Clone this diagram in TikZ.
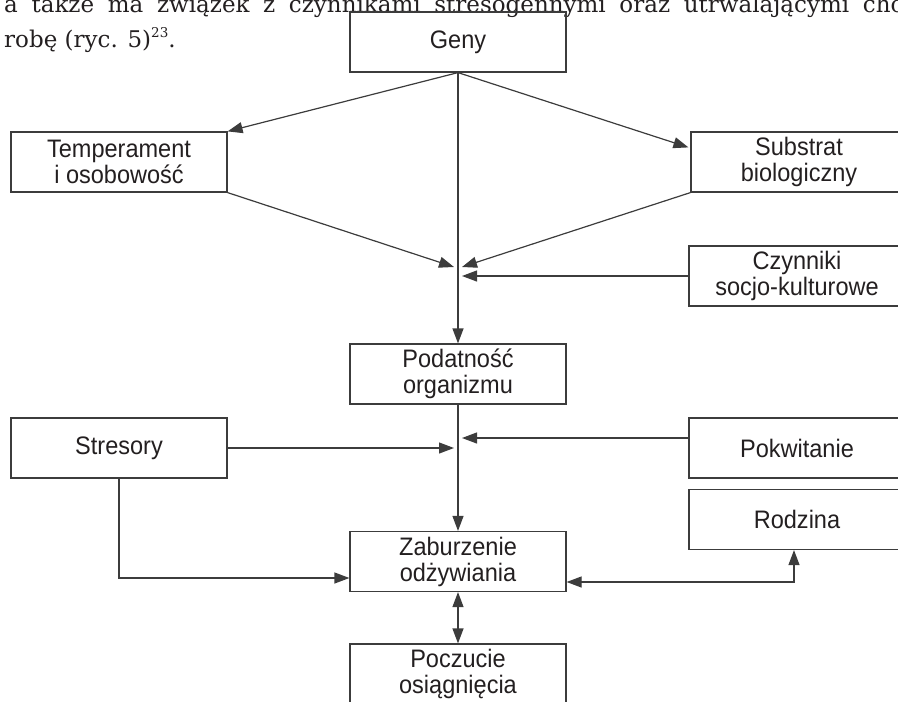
\documentclass[tikz,border=0pt]{standalone}
\usepackage{fontspec}
\setmainfont{Liberation Sans}[FakeStretch=0.93]
\newfontfamily\bodyserif{DejaVu Serif}
\usetikzlibrary{arrows.meta,calc}
\definecolor{ln}{HTML}{3C3C3C}
\definecolor{tx}{HTML}{231F20}
\begin{document}
\begin{tikzpicture}[x=1pt,y=-1pt,
  box/.style={draw=ln, line width=1.2pt, minimum width=216pt, minimum height=60pt,
    inner sep=0pt, align=center, text=tx, font=\fontsize{25.3}{26}\selectfont},
  conn/.style={draw=ln, line width=1.2pt, -{Triangle[length=15pt,width=11pt]}},
  conn2/.style={draw=ln, line width=1.2pt, {Triangle[length=15pt,width=11pt]}-{Triangle[length=15pt,width=11pt]}},
  bodytext/.style={anchor=base west, inner sep=0pt, text=tx, font=\bodyserif\fontsize{23}{27}\selectfont}
]
\useasboundingbox (0,0) rectangle (898,702);

\node[bodytext] (t1) at (4,12) {\makebox[908pt][s]{a także ma związek z czynnikami stresogennymi oraz utrwalającymi cho-}};
\node[bodytext] (t2) at (4,47) {robę (ryc. 5)\raisebox{10pt}{\fontsize{13.5}{13.5}\selectfont 23}.};

\node[box] (geny) at (458,42) {Geny};
\node[box] (temp) at (119,162) {Temperament\\i osobowość};
\node[box] (sub)  at (799,162) {Substrat\\biologiczny};
\node[box] (czy)  at (797,276) {Czynniki\\socjo-kulturowe};
\node[box] (pod)  at (458,374) {Podatność\\organizmu};
\node[box] (str)  at (119,448) {Stresory};
\node[box] (pok)  at (797,448) {Pokwitanie};
\node[box] (rod)  at (797,519.5) {Rodzina};
\node[box] (zab)  at (458,561.5) {Zaburzenie\\odżywiania};
\node[box] (pocz) at (458,674) {Poczucie\\osiągnięcia};

\coordinate (ja) at (454,267);
\coordinate (jb) at (462,267);
\coordinate (jc) at (462,276);
\coordinate (jd) at (454,448);
\coordinate (je) at (462,438);

\draw[conn] (geny.south) -- (temp.north east);
\draw[conn] (geny.south) -- ($(sub.north west)+(-2,16)$);
\draw[conn] (geny.south) -- (pod.north);
\draw[conn] (temp.south east) -- (ja);
\draw[conn] (sub.south west) -- (jb);
\draw[conn] (czy.west) -- (jc);
\draw[conn] (str.east) -- (jd);
\draw[conn] ($(pok.west)+(0,-10)$) -- (je);
\draw[conn] (pod.south) -- (zab.north);
\draw[conn] (str.south) |- ($(zab.west)+(0,16.5)$);
\draw[conn2] ($(zab.east)+(0,20.5)$) -| ($(rod.south)+(-3,0)$);
\draw[conn2] (zab.south) -- (pocz.north);
\end{tikzpicture}
\end{document}
